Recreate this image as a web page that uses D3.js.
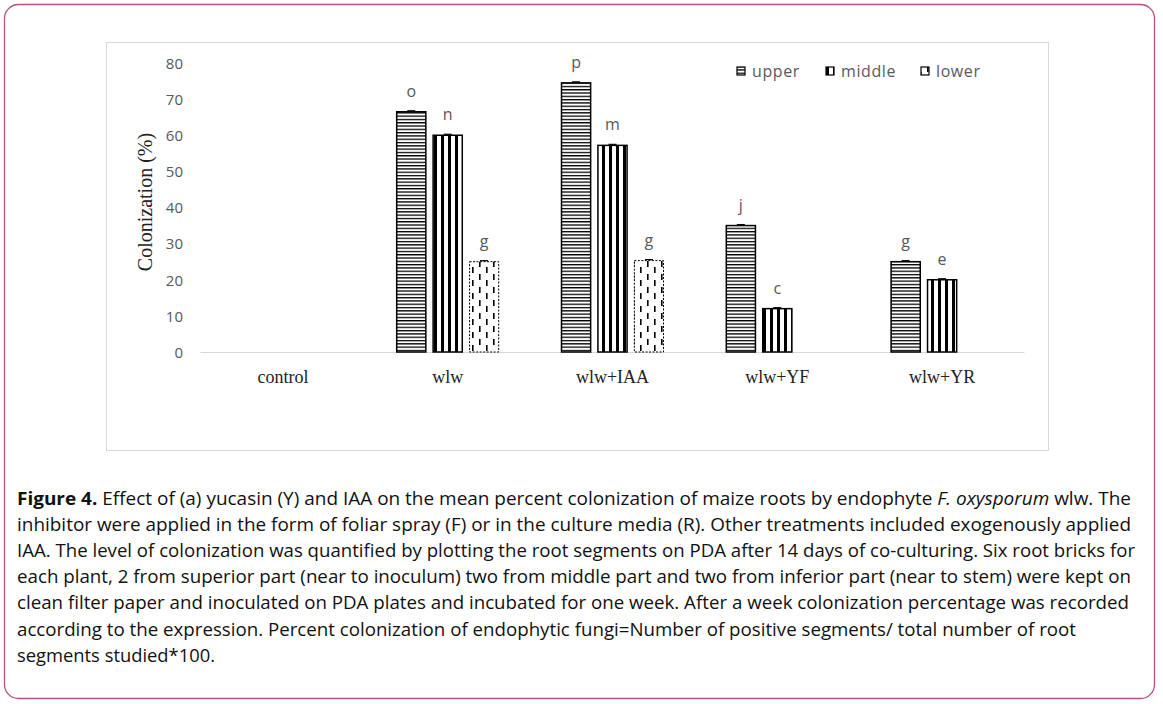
<!DOCTYPE html>
<html><head><meta charset="utf-8">
<script src="https://cdn.jsdelivr.net/npm/d3@7"></script>
<style>html,body{margin:0;padding:0;background:#fff;}svg{display:block;}</style>
</head><body>
<svg id="c" width="1163" height="704"></svg>
<script>
const categories = ["control", "wlw", "wlw+IAA", "wlw+YF", "wlw+YR"];
const seriesNames = ["upper", "middle", "lower"];
const upper  = [null, 66.5, 74.5, 35, 25];
const middle = [null, 60, 57.2, 12, 20];
const lower  = [null, 25, 25.3, null, null];
const upperLetters  = ["", "o", "p", "j", "g"];
const middleLetters = ["", "n", "m", "c", "e"];
const lowerLetters  = ["", "g", "g", "", ""];
const yTicks = [0, 10, 20, 30, 40, 50, 60, 70, 80];
const captionBold = "Figure 4.";
const captionLines = [
  [" Effect of (a) yucasin (Y) and IAA on the mean percent colonization of maize roots by endophyte ", "F. oxysporum", " wlw. The"],
  ["inhibitor were applied in the form of foliar spray (F) or in the culture media (R). Other treatments included exogenously applied"],
  ["IAA. The level of colonization was quantified by plotting the root segments on PDA after 14 days of co-culturing. Six root bricks for"],
  ["each plant, 2 from superior part (near to inoculum) two from middle part and two from inferior part (near to stem) were kept on"],
  ["clean filter paper and inoculated on PDA plates and incubated for one week. After a week colonization percentage was recorded"],
  ["according to the expression. Percent colonization of endophytic fungi=Number of positive segments/ total number of root"],
  ["segments studied*100."]
];
const lineEnds = [1131, 1131, 1135, 1131, 1129, 1076, 215];

const svg = d3.select("#c");
const defs = svg.append("defs");
// patterns
const pU = defs.append("pattern").attr("id","pU").attr("patternUnits","userSpaceOnUse").attr("width",6).attr("height",3.3);
pU.append("rect").attr("width",6).attr("height",3.3).attr("fill","#fff");
pU.append("rect").attr("y",0).attr("width",6).attr("height",1.3).attr("fill","#000");
const pM = defs.append("pattern").attr("id","pM").attr("patternUnits","userSpaceOnUse").attr("width",7).attr("height",6);
pM.append("rect").attr("width",7).attr("height",6).attr("fill","#fff");
pM.append("rect").attr("x",0).attr("width",3).attr("height",6).attr("fill","#000");
const pL = defs.append("pattern").attr("id","pL").attr("patternUnits","userSpaceOnUse").attr("width",14).attr("height",13);
pL.append("rect").attr("width",14).attr("height",13).attr("fill","#fff");
pL.append("rect").attr("x",3).attr("y",1).attr("width",1.6).attr("height",6).attr("fill","#000");
pL.append("rect").attr("x",10).attr("y",7).attr("width",1.6).attr("height",6).attr("fill","#000");
const fills = {upper:"url(#pU)", middle:"url(#pM)", lower:"url(#pL)"};

// outer frame
svg.append("rect").attr("x",4.5).attr("y",4.5).attr("width",1150).attr("height",694).attr("rx",14)
  .attr("fill","none").attr("stroke","#b0528a").attr("stroke-width",1.3);
// chart frame
svg.append("rect").attr("x",106.5).attr("y",42.5).attr("width",942).attr("height",408)
  .attr("fill","#fff").attr("stroke","#d9d9d9").attr("stroke-width",1);

const x = d3.scaleBand().domain(categories).range([200.5, 1024.5]);
const y = d3.scaleLinear().domain([0, 80]).range([352, 63]);
const groupW = 102;
const inner = d3.scaleBand().domain(seriesNames).range([0, groupW]).paddingInner(0.2);
const xOff = (x.bandwidth() - groupW) / 2;

// baseline
svg.append("line").attr("x1",x.range()[0]).attr("x2",x.range()[1]).attr("y1",y(0)+0.5).attr("y2",y(0)+0.5)
  .attr("stroke","#d9d9d9").attr("stroke-width",1.2);

// y tick labels
const yAxis = d3.axisLeft(y).tickValues(yTicks).tickSize(0).tickPadding(0);
const ga = svg.append("g").attr("transform","translate(183,0)").call(yAxis);
ga.select(".domain").remove();
ga.selectAll("text").attr("fill","#595959").attr("font-family","Open Sans, sans-serif").attr("font-size",15).attr("dy","0.35em");

// y title
svg.append("text").attr("transform",`translate(152,202) rotate(-90)`).attr("text-anchor","middle")
  .attr("font-family","Liberation Serif, Times New Roman, serif").attr("font-size",20).attr("fill","#222")
  .text("Colonization (%)");

// x labels
const xAxis = d3.axisBottom(x).tickSize(0).tickPadding(0);
const gx = svg.append("g").attr("transform","translate(0,385)").call(xAxis);
gx.select(".domain").remove();
gx.selectAll("text").attr("fill","#222").attr("font-family","Liberation Serif, Times New Roman, serif").attr("font-size",18).attr("dy","-0.1em");

const data = {upper, middle, lower};
const letters = {upper: upperLetters, middle: middleLetters, lower: lowerLetters};
seriesNames.forEach(s => {
  categories.forEach((c, i) => {
    const v = data[s][i];
    if (v == null) return;
    const bx = x(c) + xOff + inner(s);
    const bw = inner.bandwidth();
    svg.append("rect").attr("x", bx).attr("y", y(v)).attr("width", bw).attr("height", y(0) - y(v))
      .attr("fill", fills[s]).attr("stroke", "#000").attr("stroke-width", s === "lower" ? 1 : 1.5)
      .attr("stroke-dasharray", s === "lower" ? "2,1.5" : null);
    const cx = bx + bw / 2;
    svg.append("line").attr("x1", cx - 4).attr("x2", cx + 4).attr("y1", y(v) - 1).attr("y2", y(v) - 1)
      .attr("stroke", "#000").attr("stroke-width", 1.2);
    const L = letters[s][i];
    if (L) {
      svg.append("text").attr("x", cx).attr("y", y(v) - 15).attr("text-anchor","middle")
        .attr("font-family","Open Sans, sans-serif").attr("font-size",16).attr("fill","#595959").text(L);
    }
  });
});

// legend
const legX = [737, 826, 921];
seriesNames.forEach((s, i) => {
  svg.append("rect").attr("x", legX[i]).attr("y", 67).attr("width", 8).attr("height", 8)
    .attr("fill", fills[s]).attr("stroke", "#000").attr("stroke-width", 1.2);
  svg.append("text").attr("x", legX[i] + 15).attr("y", 77).attr("font-family","Open Sans, sans-serif")
    .attr("font-size", 16).attr("letter-spacing", 0.6).attr("fill","#595959").text(s);
});

// caption
const capY0 = 505, capDy = 26.1;
captionLines.forEach((parts, i) => {
  const t = svg.append("text").attr("x", 17).attr("y", capY0 + i * capDy)
    .attr("font-family","Open Sans, sans-serif").attr("font-size", 17.5).attr("fill","#111");
  if (i === 0) t.append("tspan").attr("font-weight","bold").text(captionBold);
  parts.forEach(p => {
    const ts = t.append("tspan").text(p);
    if (p === "F. oxysporum") ts.attr("font-style","italic");
  });
  if (lineEnds[i]) {
    t.attr("textLength", lineEnds[i] - 17).attr("lengthAdjust", "spacingAndGlyphs");
  }
});
</script>
</body></html>
